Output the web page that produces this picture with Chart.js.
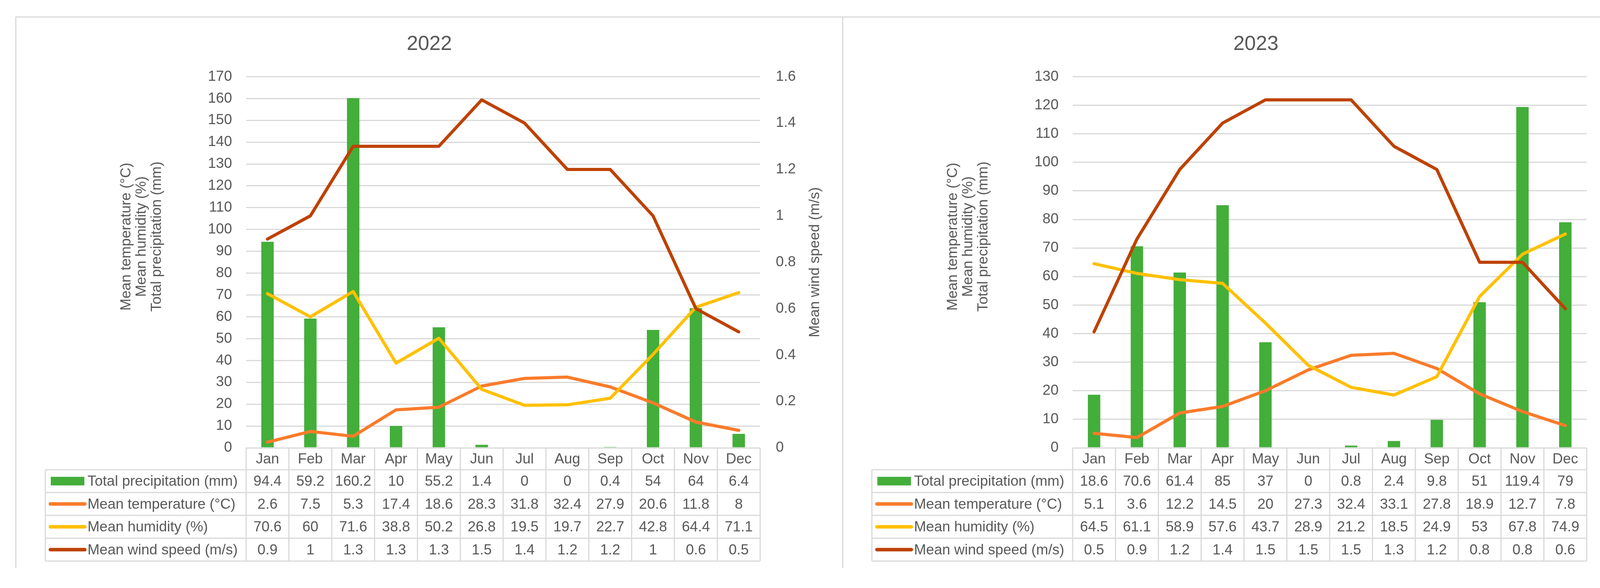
<!DOCTYPE html>
<html>
<head>
<meta charset="utf-8">
<script src="https://cdn.jsdelivr.net/npm/chart.js@4.4.1/dist/chart.umd.min.js"></script>
<style>
  html, body { margin: 0; padding: 0; background: #fff; }
  body { width: 4306px; height: 1506px; position: relative; overflow: hidden; }
  .frame { position: absolute; top: 42px; height: 1410px; border-top: 3px solid #d9d9d9; border-left: 3px solid #d9d9d9; }
  canvas { position: absolute; top: 0; }
</style>
</head>
<body>
<div class="frame" style="left:39px;width:2117px"></div>
<div class="frame" style="left:2156px;width:2112px"></div>
<canvas id="chart2022" width="2116" height="1506" style="left:41px"></canvas>
<canvas id="chart2023" width="2116" height="1506" style="left:2157px"></canvas>
<script>
const months = ["Jan", "Feb", "Mar", "Apr", "May", "Jun", "Jul", "Aug", "Sep", "Oct", "Nov", "Dec"];

const precip2022 = [94.4, 59.2, 160.2, 10, 55.2, 1.4, 0, 0, 0.4, 54, 64, 6.4];
const temp2022 = [2.6, 7.5, 5.3, 17.4, 18.6, 28.3, 31.8, 32.4, 27.9, 20.6, 11.8, 8];
const humidity2022 = [70.6, 60, 71.6, 38.8, 50.2, 26.8, 19.5, 19.7, 22.7, 42.8, 64.4, 71.1];
const wind2022 = [0.9, 1, 1.3, 1.3, 1.3, 1.5, 1.4, 1.2, 1.2, 1, 0.6, 0.5];

const precip2023 = [18.6, 70.6, 61.4, 85, 37, 0, 0.8, 2.4, 9.8, 51, 119.4, 79];
const temp2023 = [5.1, 3.6, 12.2, 14.5, 20, 27.3, 32.4, 33.1, 27.8, 18.9, 12.7, 7.8];
const humidity2023 = [64.5, 61.1, 58.9, 57.6, 43.7, 28.9, 21.2, 18.5, 24.9, 53, 67.8, 74.9];
const wind2023 = [0.5, 0.9, 1.2, 1.4, 1.5, 1.5, 1.5, 1.3, 1.2, 0.8, 0.8, 0.6];

const seriesNames = ["Total precipitation (mm)", "Mean temperature (°C)", "Mean humidity (%)", "Mean wind speed (m/s)"];
const leftTitle = ["Mean temperature (°C)", "Mean humidity (%)", "Total precipitation (mm)"];
const rightTitle = "Mean wind speed (m/s)";

const GREEN = "#43ae3a";
const ORANGE = "#fa7b2b";
const YELLOW = "#ffc000";
const BROWN = "#bd4200";
const TEXT = "#595959";
const GRID = "#d9d9d9";
const FONT = "'Liberation Sans', Arial, sans-serif";

// draws the data table under the plot and both axis titles (read bottom to top)
const tablePlugin = {
    id: "dataTable",
    afterDraw(chart) {
        const ctx = chart.ctx;
        const x = chart.scales.x;
        const area = chart.chartArea;
        const colW = x.getPixelForValue(1) - x.getPixelForValue(0);
        const headH = 56;
        const rowH = 58.5;
        const legendLeft = 75;
        const top = area.bottom;
        const bottom = top + headH + rowH * 4;
        const sets = chart.data.datasets;

        ctx.save();
        ctx.strokeStyle = GRID;
        ctx.lineWidth = 3;
        ctx.beginPath();
        for (let r = 0; r <= 4; r++) {
            let y = top + headH + r * rowH;
            ctx.moveTo(legendLeft, y);
            ctx.lineTo(area.right, y);
        }
        ctx.moveTo(legendLeft, top + headH);
        ctx.lineTo(legendLeft, bottom);
        for (let i = 0; i <= chart.data.labels.length; i++) {
            let cx = x.getPixelForValue(i) - colW / 2;
            ctx.moveTo(cx, top);
            ctx.lineTo(cx, bottom);
        }
        ctx.stroke();

        ctx.fillStyle = TEXT;
        ctx.font = "37px " + FONT;
        ctx.textAlign = "center";
        ctx.textBaseline = "middle";
        chart.data.labels.forEach((m, i) => {
            ctx.fillText(m, x.getPixelForValue(i), top + headH / 2 + 2);
        });

        sets.forEach((ds, r) => {
            let cy = top + headH + rowH * (r + 0.5);
            ds.data.forEach((v, i) => {
                ctx.fillStyle = TEXT;
                ctx.textAlign = "center";
                ctx.fillText(String(v), x.getPixelForValue(i), cy + 2);
            });
            // legend key
            if (ds.type === "line") {
                ctx.strokeStyle = ds.borderColor;
                ctx.lineWidth = 9;
                ctx.lineCap = "round";
                ctx.beginPath();
                ctx.moveTo(88, cy);
                ctx.lineTo(176, cy);
                ctx.stroke();
            } else {
                ctx.fillStyle = ds.backgroundColor;
                ctx.fillRect(89, cy - 11, 86, 22);
            }
            ctx.fillStyle = TEXT;
            ctx.textAlign = "left";
            ctx.fillText(ds.label, 183, cy + 2);
        });

        ctx.fillStyle = TEXT;
        ctx.font = "37px " + FONT;
        ctx.textAlign = "center";
        leftTitle.forEach((t, k) => {
            ctx.save();
            ctx.translate(283 + k * 39, 606);
            ctx.rotate(-Math.PI / 2);
            ctx.fillText(t, 0, 0);
            ctx.restore();
        });
        ctx.save();
        ctx.translate(chart.width - 70, (area.top + area.bottom) / 2);
        ctx.rotate(-Math.PI / 2);
        ctx.fillText(rightTitle, 0, 0);
        ctx.restore();
        ctx.restore();
    }
};

function makeChart(id, year, precip, temp, humidity, wind, leftMax) {
    return new Chart(document.getElementById(id), {
        type: "bar",
        data: {
            labels: months,
            datasets: [
                {
                    type: "bar",
                    label: seriesNames[0],
                    data: precip,
                    backgroundColor: GREEN,
                    yAxisID: "y",
                    barPercentage: 0.29,
                    categoryPercentage: 1,
                    order: 4
                },
                {
                    type: "line",
                    label: seriesNames[1],
                    data: temp,
                    borderColor: ORANGE,
                    borderWidth: 8,
                    pointRadius: 0,
                    borderJoinStyle: "round",
                    borderCapStyle: "round",
                    yAxisID: "y",
                    order: 3
                },
                {
                    type: "line",
                    label: seriesNames[2],
                    data: humidity,
                    borderColor: YELLOW,
                    borderWidth: 8,
                    pointRadius: 0,
                    borderJoinStyle: "round",
                    borderCapStyle: "round",
                    yAxisID: "y",
                    order: 2
                },
                {
                    type: "line",
                    label: seriesNames[3],
                    data: wind,
                    borderColor: BROWN,
                    borderWidth: 8,
                    pointRadius: 0,
                    borderJoinStyle: "round",
                    borderCapStyle: "round",
                    yAxisID: "y1",
                    order: 1
                }
            ]
        },
        options: {
            responsive: false,
            animation: false,
            devicePixelRatio: 1,
            layout: { padding: { left: 0, right: 0, top: 0, bottom: 359 } },
            plugins: {
                legend: { display: false },
                tooltip: { enabled: false },
                title: {
                    display: true,
                    text: year,
                    color: TEXT,
                    font: { family: FONT, size: 52, weight: "normal" },
                    padding: { top: 82, bottom: 52 }
                }
            },
            scales: {
                x: { display: false, offset: true },
                y: {
                    position: "left",
                    min: 0,
                    max: leftMax,
                    afterFit: (s) => { s.width = 589; },
                    ticks: { stepSize: 10, padding: 36, color: TEXT, font: { family: FONT, size: 37 } },
                    grid: { color: GRID, lineWidth: 3, drawTicks: false },
                    border: { display: false }
                },
                y1: {
                    position: "right",
                    min: 0,
                    max: 1.6,
                    afterFit: (s) => { s.width = 211; },
                    ticks: {
                        stepSize: 0.2,
                        padding: 40,
                        color: TEXT,
                        font: { family: FONT, size: 37 },
                        callback: (v) => String(Math.round(v * 10) / 10)
                    },
                    grid: { drawOnChartArea: false, drawTicks: false },
                    border: { display: false }
                }
            }
        },
        plugins: [tablePlugin]
    });
}

makeChart("chart2022", "2022", precip2022, temp2022, humidity2022, wind2022, 170);
makeChart("chart2023", "2023", precip2023, temp2023, humidity2023, wind2023, 130);
</script>
</body>
</html>
